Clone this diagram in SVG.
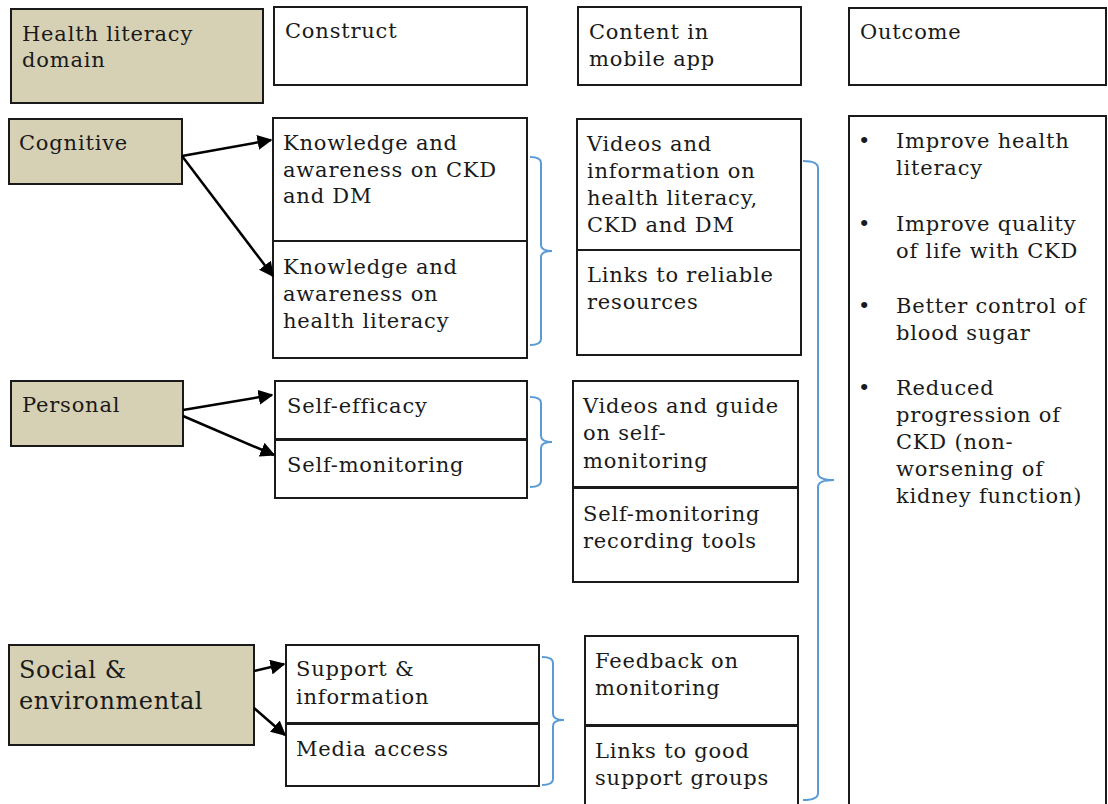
<svg xmlns="http://www.w3.org/2000/svg" width="1108" height="804" viewBox="0 0 1108 804">
<defs>
<style>
.box{fill:#fff;stroke:#1a1a1a;stroke-width:2}
.dom{fill:#d6d1b4;stroke:#1a1a1a;stroke-width:2}
text{font-family:"DejaVu Serif","Liberation Serif",serif;font-size:21px;letter-spacing:0.8px;fill:#1a1a1a}
.big{font-size:24px;letter-spacing:0.6px}
.arr{stroke:#000;stroke-width:2.5;fill:none;marker-end:url(#ah)}
.br{stroke:#5b9bd5;stroke-width:2;fill:none}
</style>
<marker id="ah" viewBox="0 0 10 10" refX="9" refY="5" markerWidth="6" markerHeight="6" markerUnits="strokeWidth" orient="auto"><path d="M0,0 L10,5 L0,10 z" fill="#000"/></marker>
</defs>
<rect width="1108" height="804" fill="#fff"/>

<g id="h-domain"><rect class="dom" x="11" y="9" width="252" height="94"/><text x="22" y="41">Health literacy</text><text x="22" y="67">domain</text></g>
<g id="h-construct"><rect class="box" x="274" y="7" width="253" height="78"/><text x="285" y="38">Construct</text></g>
<g id="h-content"><rect class="box" x="578" y="7" width="223" height="78"/><text x="589" y="39">Content in</text><text x="589" y="66">mobile app</text></g>
<g id="h-outcome"><rect class="box" x="849" y="8" width="257" height="77"/><text x="860" y="39">Outcome</text></g>

<g id="cognitive"><rect class="dom" x="9" y="119" width="173" height="65"/><text x="19" y="150">Cognitive</text></g>
<g id="know-ckd"><rect class="box" x="273" y="118" width="254" height="123"/><text x="283" y="150">Knowledge and</text><text x="283" y="177">awareness on CKD</text><text x="283" y="203">and DM</text></g>
<g id="know-hl"><rect class="box" x="273" y="241" width="254" height="117"/><text x="283" y="274">Knowledge and</text><text x="283" y="301">awareness on</text><text x="283" y="328">health literacy</text></g>
<g id="videos-info"><rect class="box" x="577" y="119" width="224" height="131"/><text x="587" y="151">Videos and</text><text x="587" y="178">information on</text><text x="587" y="205">health literacy,</text><text x="587" y="232">CKD and DM</text></g>
<g id="links-reliable"><rect class="box" x="577" y="250" width="224" height="105"/><text x="587" y="282">Links to reliable</text><text x="587" y="309">resources</text></g>

<g id="outcomes"><rect class="box" x="849" y="116" width="257" height="700"/>
<text x="858" y="148">•</text><text x="896" y="148">Improve health</text><text x="896" y="175">literacy</text>
<text x="858" y="231">•</text><text x="896" y="231">Improve quality</text><text x="896" y="258">of life with CKD</text>
<text x="858" y="313">•</text><text x="896" y="313">Better control of</text><text x="896" y="340">blood sugar</text>
<text x="858" y="395">•</text><text x="896" y="395">Reduced</text><text x="896" y="422">progression of</text><text x="896" y="449">CKD (non-</text><text x="896" y="476">worsening of</text><text x="896" y="503">kidney function)</text>
</g>

<g id="personal"><rect class="dom" x="11" y="381" width="172" height="65"/><text x="22" y="412">Personal</text></g>
<g id="self-efficacy"><rect class="box" x="275" y="381" width="252" height="58"/><text x="287" y="413">Self-efficacy</text></g>
<g id="self-monitoring"><rect class="box" x="275" y="440" width="252" height="58"/><text x="287" y="472">Self-monitoring</text></g>
<g id="videos-guide"><rect class="box" x="573" y="381" width="225" height="106"/><text x="583" y="413">Videos and guide</text><text x="583" y="440">on self-</text><text x="583" y="468">monitoring</text></g>
<g id="recording-tools"><rect class="box" x="573" y="488" width="225" height="94"/><text x="583" y="521">Self-monitoring</text><text x="583" y="548">recording tools</text></g>

<g id="social"><rect class="dom" x="9" y="645" width="245" height="100"/><text class="big" x="19" y="678">Social &amp;</text><text class="big" x="19" y="709">environmental</text></g>
<g id="support-info"><rect class="box" x="286" y="645" width="253" height="78"/><text x="296" y="676">Support &amp;</text><text x="296" y="704">information</text></g>
<g id="media-access"><rect class="box" x="286" y="724" width="253" height="62"/><text x="296" y="756">Media access</text></g>
<g id="feedback"><rect class="box" x="585" y="636" width="213" height="89"/><text x="595" y="668">Feedback on</text><text x="595" y="695">monitoring</text></g>
<g id="support-groups"><rect class="box" x="585" y="726" width="213" height="100"/><text x="595" y="758">Links to good</text><text x="595" y="785">support groups</text></g>

<g id="connectors">
<line class="arr" x1="182" y1="156" x2="271" y2="140"/>
<line class="arr" x1="182" y1="156" x2="273" y2="276"/>
<line class="arr" x1="183" y1="410" x2="272" y2="395"/>
<line class="arr" x1="183" y1="416" x2="274" y2="455"/>
<line class="arr" x1="254" y1="671" x2="284" y2="664"/>
<line class="arr" x1="254" y1="708" x2="285" y2="735"/>
<path class="br" d="M530,157 Q541,157 541,163 L541,245 Q541,251 552,251 Q541,251 541,257 L541,339 Q541,345 530,345"/>
<path class="br" d="M530,397 Q541,397 541,403 L541,436 Q541,442 552,442 Q541,442 541,448 L541,481 Q541,487 530,487"/>
<path class="br" d="M542,657 Q553,657 553,663 L553,714 Q553,720 564,720 Q553,720 553,726 L553,779 Q553,785 542,785"/>
<path class="br" d="M803,161 Q818,161 818,168 L818,473 Q818,480 834,480 Q818,480 818,487 L818,793 Q818,800 803,800"/>
</g>
</svg>
